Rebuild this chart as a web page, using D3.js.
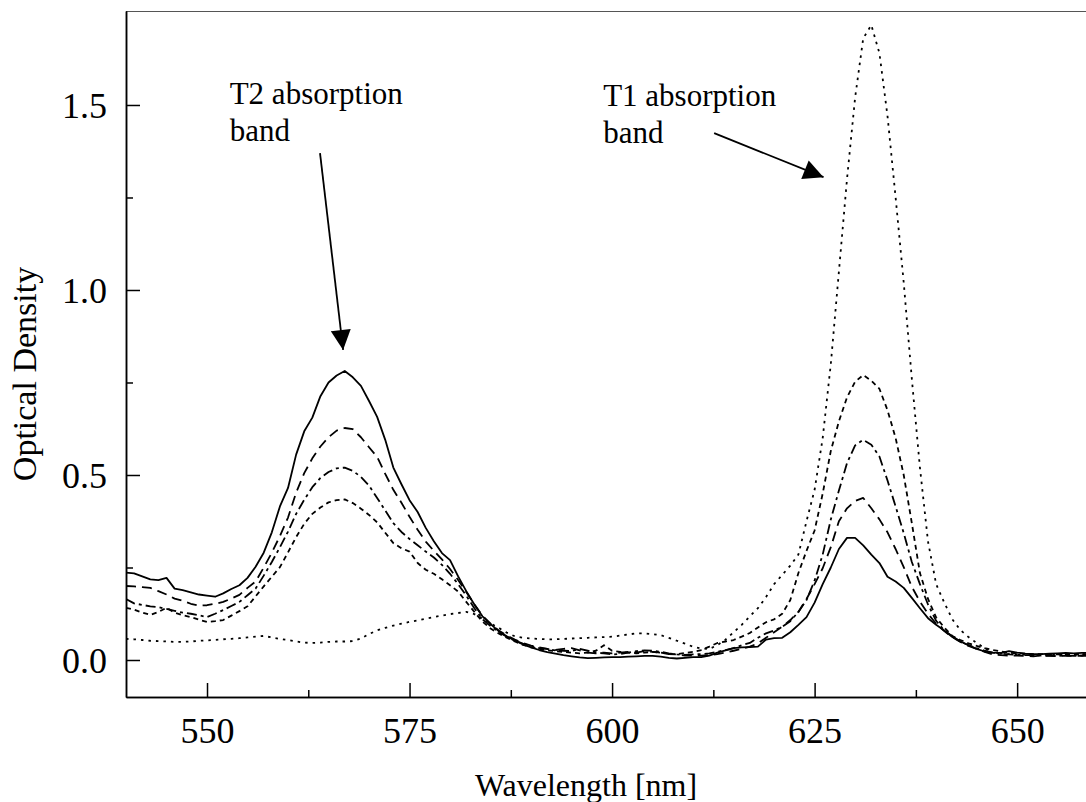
<!DOCTYPE html>
<html>
<head>
<meta charset="utf-8">
<script src="https://cdn.jsdelivr.net/npm/d3@7"></script>
<style>
  body { margin: 0; background: #fff; }
  svg text { font-family: "Liberation Serif", "Times New Roman", serif; fill: #000; }
  .axis path, .axis line { stroke: #000; stroke-width: 1.5px; }
  .line { fill: none; stroke: #000; stroke-width: 1.8px; stroke-linejoin: round; }
</style>
</head>
<body>
<div id="chart"></div>
<script>
'use strict';

// wavelength grid, 1 nm steps
var wavelength = d3.range(540, 661);

// optical density per spectrum
var solid = [
  .236,.234,.226,.218,.216,.222,.193,.189,.183,.177,
  .174,.171,.180,.192,.202,.222,.252,.290,.345,.415,
  .465,.555,.618,.655,.713,.750,.769,.781,.764,.741,
  .700,.657,.595,.520,.475,.432,.400,.357,.321,.289,
  .270,.226,.186,.150,.118,.097,.078,.064,.053,.042,
  .034,.027,.021,.017,.013,.010,.007,.005,.006,.007,
  .008,.008,.009,.010,.011,.011,.009,.006,.004,.006,
  .008,.008,.012,.020,.026,.032,.034,.035,.036,.055,
  .059,.060,.075,.095,.116,.155,.205,.250,.300,.330,
  .330,.310,.285,.262,.225,.212,.195,.168,.140,.113,
  .095,.080,.064,.050,.040,.030,.023,.020,.019,.024,
  .020,.017,.016,.016,.017,.018,.019,.018,.019,.019,
  .019
];
var longDash = [
  .200,.199,.197,.195,.186,.177,.166,.160,.152,.147,
  .148,.152,.157,.166,.176,.195,.212,.250,.290,.335,
  .385,.452,.505,.545,.577,.602,.620,.627,.624,.602,
  .575,.549,.503,.460,.425,.387,.352,.320,.295,.272,
  .246,.216,.184,.150,.120,.098,.080,.066,.055,.046,
  .039,.034,.030,.027,.030,.032,.026,.020,.018,.020,
  .018,.020,.022,.020,.024,.022,.020,.016,.015,.012,
  .012,.012,.013,.016,.020,.025,.030,.036,.045,.060,
  .075,.090,.108,.130,.165,.205,.248,.305,.375,.410,
  .430,.438,.410,.380,.345,.300,.251,.198,.158,.125,
  .098,.078,.062,.049,.038,.030,.022,.015,.013,.012,
  .012,.011,.010,.012,.011,.010,.012,.011,.012,.010,
  .012
];
var dashDot = [
  .165,.153,.149,.145,.143,.138,.133,.128,.125,.121,
  .116,.125,.135,.146,.157,.175,.193,.228,.265,.305,
  .347,.395,.433,.467,.492,.508,.518,.520,.511,.495,
  .471,.438,.404,.370,.346,.327,.310,.293,.277,.257,
  .233,.205,.174,.140,.110,.092,.076,.063,.052,.044,
  .037,.032,.030,.026,.025,.024,.030,.025,.020,.018,
  .015,.016,.020,.024,.026,.025,.022,.018,.015,.014,
  .015,.016,.018,.022,.027,.032,.040,.046,.060,.072,
  .080,.090,.105,.130,.162,.215,.285,.380,.458,.532,
  .580,.595,.582,.550,.485,.415,.343,.265,.205,.150,
  .106,.080,.062,.050,.040,.032,.025,.020,.017,.015,
  .014,.013,.013,.012,.012,.011,.012,.011,.012,.011,
  .011
];
var shortDash = [
  .141,.136,.128,.122,.130,.141,.128,.121,.116,.109,
  .103,.105,.108,.120,.132,.145,.172,.199,.225,.251,
  .291,.332,.368,.395,.412,.426,.432,.434,.424,.409,
  .392,.372,.344,.316,.302,.293,.262,.244,.233,.218,
  .202,.185,.157,.130,.104,.085,.072,.060,.050,.041,
  .034,.030,.026,.024,.022,.020,.018,.020,.025,.040,
  .025,.022,.020,.018,.020,.022,.020,.016,.016,.019,
  .022,.027,.036,.046,.050,.054,.063,.073,.088,.102,
  .110,.125,.162,.235,.295,.350,.450,.565,.645,.710,
  .752,.770,.755,.733,.675,.600,.500,.370,.235,.165,
  .115,.088,.065,.054,.045,.038,.032,.027,.023,.020,
  .018,.017,.016,.016,.015,.015,.014,.015,.016,.015,
  .015
];
var dotted = [
  .057,.056,.054,.052,.051,.050,.049,.049,.050,.052,
  .053,.054,.056,.057,.059,.061,.063,.065,.061,.057,
  .054,.050,.047,.046,.047,.049,.050,.050,.051,.058,
  .070,.080,.087,.093,.098,.103,.107,.112,.116,.120,
  .124,.127,.130,.124,.112,.099,.087,.074,.064,.060,
  .058,.057,.056,.056,.057,.058,.059,.060,.061,.062,
  .063,.066,.069,.072,.072,.070,.067,.060,.052,.044,
  .036,.031,.030,.040,.055,.075,.095,.118,.140,.170,
  .205,.230,.255,.285,.375,.460,.600,.800,1.050,1.300,
  1.520,1.680,1.716,1.640,1.470,1.250,1.020,.760,.520,.320,
  .205,.155,.110,.081,.062,.046,.032,.020,.017,.016,
  .016,.015,.015,.014,.015,.014,.015,.014,.015,.015,
  .015
];

var seriesNames = ['solid', 'longDash', 'dashDot', 'shortDash', 'dotted'];
var seriesValues = [solid, longDash, dashDot, shortDash, dotted];
var seriesDash = ['none', '10,6', '10,4,3,4', '5,4', '2.5,5'];

var yMajor = [0, 0.5, 1.0, 1.5];
var yMinor = [0.25, 0.75, 1.25];
var xMajor = [550, 575, 600, 625, 650];
var xMinor = [562.5, 587.5, 612.5, 637.5];

// annotations in data units: text anchor and arrow from/to
var notes = [
  { lines: ['T2 absorption', 'band'], x: 552.8, y: 1.502, from: [563.95, 1.37], to: [566.8, 0.838] },
  { lines: ['T1 absorption', 'band'], x: 598.9, y: 1.498, from: [612.6, 1.424], to: [626.1, 1.305] }
];

function spectrumChart()
{
    var scope = this;
    var exports = {};

    scope.width = 1086;
    scope.height = 802;
    scope.left = 126;
    scope.right = 1086;
    scope.top = 11;
    scope.bottom = 697;

    scope.xScale = undefined;
    scope.yScale = undefined;

    scope.appendSvg = function(div)
    {
        return d3.select(div).append('svg')
            .attr('width', scope.width)
            .attr('height', scope.height)
            .attr('font-family', 'Liberation Serif');
    }

    scope.createScales = function()
    {
        // axis runs past 650 and is cut by the picture edge
        scope.xScale = d3.scaleLinear().domain([540, 658.5]).range([scope.left, scope.right]);
        scope.yScale = d3.scaleLinear().domain([-0.1, 1.754]).range([scope.bottom, scope.top]);
    }

    scope.createAxes = function(svg)
    {
        // top frame line
        svg.append('line')
            .attr('x1', scope.left).attr('x2', scope.right)
            .attr('y1', scope.top + 0.5).attr('y2', scope.top + 0.5)
            .attr('stroke', '#555').attr('stroke-width', 1.2);

        svg.append('g')
            .attr('class', 'axis')
            .attr('transform', 'translate(0,' + scope.bottom + ')')
            .call(d3.axisBottom(scope.xScale).tickValues(xMinor).tickSizeInner(-7).tickSizeOuter(0).tickFormat(''));

        var xa = svg.append('g')
            .attr('class', 'axis')
            .attr('transform', 'translate(0,' + scope.bottom + ')')
            .call(d3.axisBottom(scope.xScale).tickValues(xMajor).tickSizeInner(-14).tickSizeOuter(0).tickPadding(20).tickFormat(d3.format('d')));
        xa.attr('font-family', 'Liberation Serif').selectAll('text').attr('font-size', 36);

        svg.append('g')
            .attr('class', 'axis')
            .attr('transform', 'translate(' + scope.left + ',0)')
            .call(d3.axisLeft(scope.yScale).tickValues(yMinor).tickSizeInner(-7).tickSizeOuter(0).tickFormat(''));

        var ya = svg.append('g')
            .attr('class', 'axis')
            .attr('transform', 'translate(' + scope.left + ',0)')
            .call(d3.axisLeft(scope.yScale).tickValues(yMajor).tickSizeInner(-14).tickSizeOuter(0).tickPadding(19).tickFormat(d3.format('.1f')));
        ya.attr('font-family', 'Liberation Serif').selectAll('text').attr('font-size', 36).attr('dy', '0.36em');
    }

    scope.appendLines = function(svg)
    {
        svg.append('clipPath').attr('id', 'plotClip')
            .append('rect')
            .attr('x', scope.left).attr('y', scope.top)
            .attr('width', scope.right - scope.left).attr('height', scope.bottom - scope.top);

        var line = d3.line()
            .x(function(d) { return scope.xScale(d[0]); })
            .y(function(d) { return scope.yScale(d[1]); });

        svg.append('g').attr('clip-path', 'url(#plotClip)')
            .selectAll('.line')
            .data(seriesValues)
            .enter().append('path')
            .attr('class', function(d, i) { return 'line ' + seriesNames[i]; })
            .attr('stroke-dasharray', function(d, i) { return seriesDash[i]; })
            .attr('d', function(vals) {
                return line(wavelength.map(function(w, j) { return [w, vals[j]]; }));
            });
    }

    scope.appendNotes = function(svg)
    {
        svg.append('defs').append('marker')
            .attr('id', 'head')
            .attr('viewBox', '0 0 10 10')
            .attr('refX', 10).attr('refY', 5)
            .attr('markerUnits', 'userSpaceOnUse')
            .attr('markerWidth', 22).attr('markerHeight', 20)
            .attr('orient', 'auto')
            .append('path').attr('d', 'M0,0L10,5L0,10Z').attr('fill', '#000');

        var g = svg.selectAll('.note').data(notes).enter().append('g').attr('class', 'note');

        g.append('text')
            .attr('x', function(d) { return scope.xScale(d.x); })
            .attr('y', function(d) { return scope.yScale(d.y); })
            .attr('font-size', 31)
            .selectAll('tspan')
            .data(function(d) { return d.lines.map(function(t) { return { t: t, x: d.x }; }); })
            .enter().append('tspan')
            .attr('x', function(d) { return scope.xScale(d.x); })
            .attr('dy', function(d, i) { return i ? 37 : 0; })
            .text(function(d) { return d.t; });

        g.append('line')
            .attr('x1', function(d) { return scope.xScale(d.from[0]); })
            .attr('y1', function(d) { return scope.yScale(d.from[1]); })
            .attr('x2', function(d) { return scope.xScale(d.to[0]); })
            .attr('y2', function(d) { return scope.yScale(d.to[1]); })
            .attr('stroke', '#000').attr('stroke-width', 1.8)
            .attr('marker-end', 'url(#head)');
    }

    scope.createLabels = function(svg)
    {
        svg.append('text')
            .attr('x', 586).attr('y', 796)
            .attr('text-anchor', 'middle')
            .attr('font-size', 32)
            .text('Wavelength [nm]');

        svg.append('text')
            .attr('transform', 'translate(36,374) rotate(-90)')
            .attr('text-anchor', 'middle')
            .attr('font-size', 34)
            .text('Optical Density');
    }

    exports.run = function(div)
    {
        var svg = scope.appendSvg(div);
        scope.createScales();
        scope.appendLines(svg);
        scope.createAxes(svg);
        scope.appendNotes(svg);
        scope.createLabels(svg);
    }

    return exports;
}

new spectrumChart().run('#chart');
</script>
</body>
</html>
